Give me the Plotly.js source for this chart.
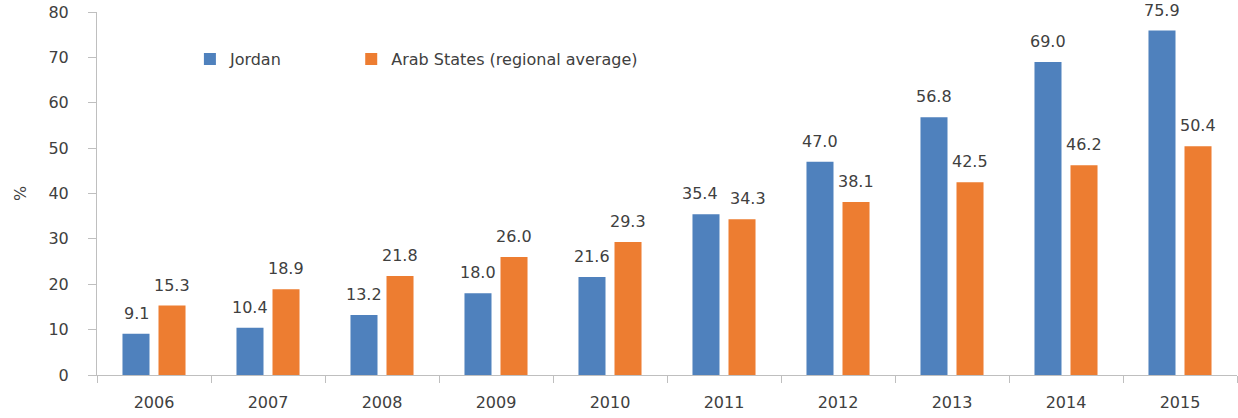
<!DOCTYPE html>
<html>
<head>
<meta charset="utf-8">
<script src="https://cdn.plot.ly/plotly-3.0.1.min.js"></script>
<style>html,body{margin:0;padding:0;background:#fff}#chart{width:1238px;height:418px}</style>
</head>
<body>
<div id="chart"></div>
<script>
const years = ['2006','2007','2008','2009','2010','2011','2012','2013','2014','2015'];
const jordan = [9.1, 10.4, 13.2, 18.0, 21.6, 35.4, 47.0, 56.8, 69.0, 75.9];
const arabStates = [15.3, 18.9, 21.8, 26.0, 29.3, 34.3, 38.1, 42.5, 46.2, 50.4];
const seriesNames = ['Jordan', 'Arab States (regional average)'];
const colors = ['#4F81BD', '#ED7D31'];
const yTicks = [0, 10, 20, 30, 40, 50, 60, 70, 80];

const font = {family: 'DejaVu Sans, Verdana, sans-serif', size: 16, color: '#404040'};

const traces = [jordan, arabStates].map((vals, i) => ({
  type: 'bar', x: years, y: vals, name: seriesNames[i],
  marker: {color: colors[i]}, hoverinfo: 'none',
  legend: i === 0 ? 'legend' : 'legend2'
}));

const annotations = [];
[jordan, arabStates].forEach((vals, i) => {
  const other = i === 0 ? arabStates : jordan;
  vals.forEach((v, j) => {
    // nudge labels apart when the two bars of a year have similar heights
    const nudge = Math.abs(v - other[j]) < 3 ? 6 : 0;
    annotations.push({
      x: j, y: v, xref: 'x', yref: 'y', text: v.toFixed(1),
      showarrow: false, yanchor: 'bottom', xanchor: 'center',
      xshift: i === 0 ? -18 - nudge : 18 + nudge, yshift: 9, font: font
    });
  });
});

const legendBase = {orientation: 'h', xanchor: 'left', yanchor: 'middle', font: font,
                    bgcolor: 'rgba(0,0,0,0)', borderwidth: 0};

const layout = {
  width: 1238, height: 418,
  margin: {l: 97, r: 1, t: 12, b: 43},
  paper_bgcolor: '#fff', plot_bgcolor: '#fff',
  barmode: 'group', bargap: 0.368, bargroupgap: 0.25,
  font: font,
  showlegend: true,
  legend: Object.assign({x: 0.0815, y: 0.87}, legendBase),
  legend2: Object.assign({x: 0.223, y: 0.87}, legendBase),
  xaxis: {type: 'category', range: [-0.5, 9.5], autorange: false,
          showline: true, linecolor: '#BFBFBF', linewidth: 1,
          ticks: 'outside', tickson: 'boundaries', ticklen: 7, tickcolor: '#BFBFBF',
          showgrid: false, zeroline: false, tickfont: font, ticklabelstandoff: 13,
          tickangle: 0},
  yaxis: {range: [0, 80], autorange: false, tickvals: yTicks, showline: true, linecolor: '#BFBFBF', linewidth: 1,
          ticks: 'outside', ticklen: 8, tickcolor: '#BFBFBF', showgrid: false, zeroline: false,
          tickfont: font, ticklabelstandoff: 16,
          title: {text: '%', font: font, standoff: 17}},
  annotations: annotations
};

Plotly.newPlot('chart', traces, layout, {staticPlot: true, displayModeBar: false});
</script>
</body>
</html>
